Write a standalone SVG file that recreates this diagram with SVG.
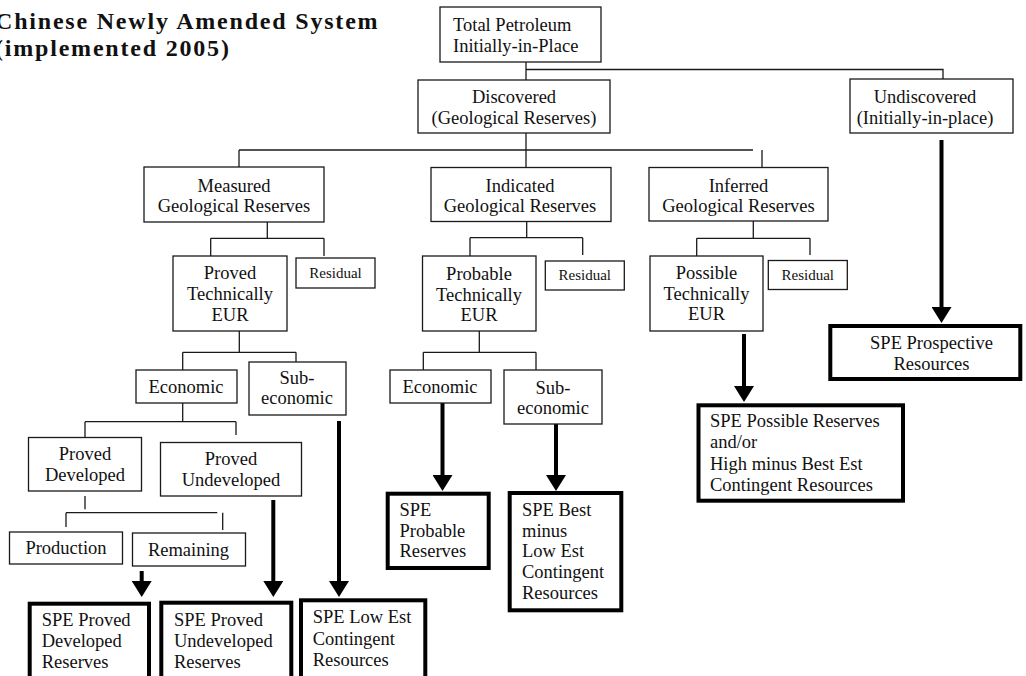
<svg xmlns="http://www.w3.org/2000/svg" width="1026" height="676" viewBox="0 0 1026 676">
<defs>
<style>
text{font-family:"Liberation Serif","Times New Roman",serif;font-size:18.5px;fill:#111}
.c{text-anchor:middle}
.s{font-size:15px}
.title{font-weight:bold;font-size:24px;letter-spacing:1.8px}
.box{fill:#fff;stroke:#1a1a1a;stroke-width:1.3}
.tbox{fill:#fff;stroke:#000;stroke-width:4}
.ln{stroke:#1a1a1a;stroke-width:1.3;fill:none}
.arr{stroke:#000;stroke-width:4;fill:none;marker-end:url(#ah)}
</style>
<marker id="ah" viewBox="0 0 16 20" refX="0" refY="10" markerWidth="16" markerHeight="20" markerUnits="userSpaceOnUse" orient="auto">
<path d="M0,0 L16,10 L0,20 z" fill="#000"/>
</marker>
</defs>
<rect width="1026" height="676" fill="#fff"/>

<g id="title">
<text class="title" x="-5" y="29">Chinese Newly Amended System</text>
<text class="title" x="-5" y="56">(implemented 2005)</text>
</g>

<g id="connectors">
<path class="ln" d="M526,62V80 M526,69.5H943V79 M526,133V167.5 M239,150H753 M239,150V167 M762,150V167.5"/>
<path class="ln" d="M267.3,222V238.3 M210.7,238.3H324 M210.7,238.3V256 M324,238.3V256"/>
<path class="ln" d="M526.7,221.5V237.7 M470,237.7H582.7 M470,237.7V256 M582.7,237.7V255"/>
<path class="ln" d="M753.3,221V238.3 M696.7,238.3H810 M696.7,238.3V256 M810,238.3V255"/>
<path class="ln" d="M239.3,331V352.3 M182.7,352.3H296 M182.7,352.3V370 M296,352.3V362"/>
<path class="ln" d="M479.3,331V352.3 M423.3,352.3H536 M423.3,352.3V370 M536,352.3V370"/>
<path class="ln" d="M182.7,403V421.7 M85,421.7H236 M85,421.7V437.5 M236,421.7V435"/>
<path class="ln" d="M85,496V509.3 M66,512.7H217.3 M66,512.7V527 M222.7,512.7V530"/>
<path class="arr" d="M941.5,140V307"/>
<path class="arr" d="M744,334V386"/>
<path class="arr" d="M442.5,403V475"/>
<path class="arr" d="M556,424V475"/>
<path class="arr" d="M339,421V581"/>
<path class="arr" d="M273.3,500V581"/>
<path class="arr" d="M141.7,571V581"/>
</g>

<g id="total">
<rect class="box" x="440" y="7" width="161" height="55"/>
<text x="453" y="31">Total Petroleum</text>
<text x="453" y="52">Initially-in-Place</text>
</g>
<g id="discovered">
<rect class="box" x="418" y="80" width="192" height="53"/>
<text class="c" x="514" y="103">Discovered</text>
<text class="c" x="514" y="124">(Geological Reserves)</text>
</g>
<g id="undiscovered">
<rect class="box" x="850" y="79" width="163" height="54"/>
<text class="c" x="925" y="103">Undiscovered</text>
<text class="c" x="925" y="124">(Initially-in-place)</text>
</g>
<g id="measured">
<rect class="box" x="144" y="167" width="180" height="55"/>
<text class="c" x="234" y="192">Measured</text>
<text class="c" x="234" y="212">Geological Reserves</text>
</g>
<g id="indicated">
<rect class="box" x="431" y="167.5" width="180" height="54"/>
<text class="c" x="520" y="192">Indicated</text>
<text class="c" x="520" y="212">Geological Reserves</text>
</g>
<g id="inferred">
<rect class="box" x="649" y="167.5" width="179" height="53.5"/>
<text class="c" x="738.5" y="192">Inferred</text>
<text class="c" x="738.5" y="212">Geological Reserves</text>
</g>
<g id="proved-te">
<rect class="box" x="173" y="256" width="114" height="75"/>
<text class="c" x="230" y="279">Proved</text>
<text class="c" x="230" y="300">Technically</text>
<text class="c" x="230" y="321">EUR</text>
</g>
<g id="probable-te">
<rect class="box" x="422.5" y="256" width="113.5" height="75"/>
<text class="c" x="479" y="279.5">Probable</text>
<text class="c" x="479" y="300.5">Technically</text>
<text class="c" x="479" y="321">EUR</text>
</g>
<g id="possible-te">
<rect class="box" x="650" y="256" width="113" height="75"/>
<text class="c" x="706.5" y="278.5">Possible</text>
<text class="c" x="706.5" y="299.5">Technically</text>
<text class="c" x="706.5" y="320">EUR</text>
</g>
<g id="residual-1">
<rect class="box" x="296" y="258" width="79" height="30"/>
<text class="c s" x="335.5" y="278">Residual</text>
</g>
<g id="residual-2">
<rect class="box" x="545.3" y="261" width="79" height="29"/>
<text class="c s" x="584.8" y="280">Residual</text>
</g>
<g id="residual-3">
<rect class="box" x="768.3" y="260.5" width="79" height="29"/>
<text class="c s" x="807.8" y="279.5">Residual</text>
</g>
<g id="economic-1">
<rect class="box" x="136" y="370" width="101" height="33"/>
<text class="c" x="186" y="393">Economic</text>
</g>
<g id="subeconomic-1">
<rect class="box" x="249" y="362" width="97" height="53"/>
<text class="c" x="297" y="384">Sub-</text>
<text class="c" x="297" y="404">economic</text>
</g>
<g id="economic-2">
<rect class="box" x="390" y="370" width="101" height="33"/>
<text class="c" x="440" y="393">Economic</text>
</g>
<g id="subeconomic-2">
<rect class="box" x="504" y="370" width="98" height="54"/>
<text class="c" x="553" y="393.5">Sub-</text>
<text class="c" x="553" y="414">economic</text>
</g>
<g id="proved-developed">
<rect class="box" x="28.5" y="437.5" width="113" height="53.5"/>
<text class="c" x="85" y="460">Proved</text>
<text class="c" x="85" y="481">Developed</text>
</g>
<g id="proved-undeveloped">
<rect class="box" x="160.5" y="442.5" width="141" height="53.5"/>
<text class="c" x="231" y="465">Proved</text>
<text class="c" x="231" y="486">Undeveloped</text>
</g>
<g id="production">
<rect class="box" x="9.5" y="532" width="113" height="32"/>
<text class="c" x="66" y="554">Production</text>
</g>
<g id="remaining">
<rect class="box" x="132.5" y="533" width="113" height="33"/>
<text class="c" x="188.5" y="556">Remaining</text>
</g>

<g id="spe-prospective">
<rect class="tbox" x="830.3" y="326" width="190" height="53"/>
<text class="c" x="931.5" y="349">SPE Prospective</text>
<text class="c" x="931.5" y="369.5">Resources</text>
</g>
<g id="spe-possible">
<rect class="tbox" x="698.5" y="405.3" width="204.5" height="95.4"/>
<text x="710" y="427.3">SPE Possible Reserves</text>
<text x="710" y="448.3">and/or</text>
<text x="710" y="470">High minus Best Est</text>
<text x="710" y="490.7">Contingent Resources</text>
</g>
<g id="spe-probable">
<rect class="tbox" x="387.7" y="493.7" width="101" height="74.3"/>
<text x="399.5" y="515.7">SPE</text>
<text x="399.5" y="536.7">Probable</text>
<text x="399.5" y="557.3">Reserves</text>
</g>
<g id="spe-best">
<rect class="tbox" x="509.7" y="493" width="111.6" height="117.3"/>
<text x="522" y="515.7">SPE Best</text>
<text x="522" y="536.7">minus</text>
<text x="522" y="557.3">Low Est</text>
<text x="522" y="578.3">Contingent</text>
<text x="522" y="599.3">Resources</text>
</g>
<g id="spe-pd">
<rect class="tbox" x="29.7" y="603.7" width="119.3" height="90"/>
<text x="41.7" y="626">SPE Proved</text>
<text x="41.7" y="646.7">Developed</text>
<text x="41.7" y="667.7">Reserves</text>
</g>
<g id="spe-pu">
<rect class="tbox" x="161.3" y="602.7" width="130" height="90"/>
<text x="174" y="626">SPE Proved</text>
<text x="174" y="646.7">Undeveloped</text>
<text x="174" y="667.7">Reserves</text>
</g>
<g id="spe-low">
<rect class="tbox" x="301" y="600.3" width="124.3" height="90"/>
<text x="312.7" y="623.3">SPE Low Est</text>
<text x="312.7" y="645">Contingent</text>
<text x="312.7" y="666">Resources</text>
</g>
</svg>
